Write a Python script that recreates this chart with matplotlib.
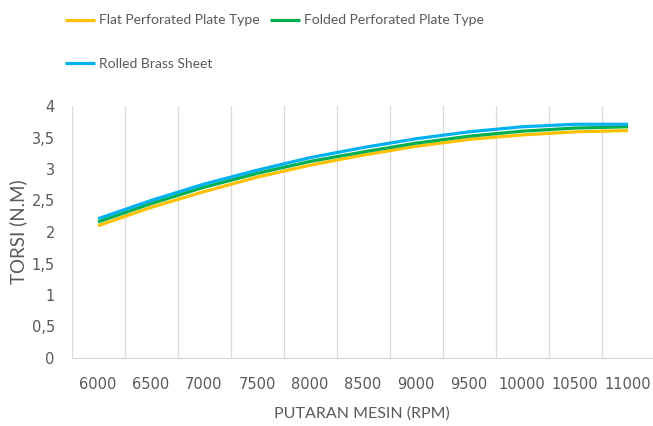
import matplotlib
matplotlib.use("Agg")
import matplotlib.pyplot as plt

rpm = [6000, 6500, 7000, 7500, 8000, 8500, 9000, 9500, 10000, 10500, 11000]
flat = [2.10, 2.39, 2.64, 2.87, 3.06, 3.22, 3.36, 3.47, 3.54, 3.59, 3.61]
folded = [2.16, 2.45, 2.71, 2.93, 3.12, 3.27, 3.41, 3.52, 3.60, 3.65, 3.67]
rolled = [2.21, 2.50, 2.76, 2.98, 3.18, 3.34, 3.48, 3.59, 3.67, 3.71, 3.71]
y_ticks = [0, 0.5, 1, 1.5, 2, 2.5, 3, 3.5, 4]

GRAY = "#595959"
narrow = ["Lato", "DejaVu Sans"]

W, H = 653, 426
fig = plt.figure(figsize=(W / 100, H / 100), dpi=100)
# plot area in pixels: left 71.5, right 653, top 106, bottom 358
ax = fig.add_axes([71.5 / W, (H - 358) / H, (653 - 71.5) / W, (358 - 106) / H])

x = list(range(len(rpm)))
l1, = ax.plot(x, flat, color="#FFC000", lw=2.3, solid_capstyle="butt", label="Flat Perforated Plate Type")
l2, = ax.plot(x, folded, color="#00B050", lw=2.3, solid_capstyle="butt", label="Folded Perforated Plate Type")
l3, = ax.plot(x, rolled, color="#00B0F0", lw=2.3, solid_capstyle="butt", label="Rolled Brass Sheet")

ax.set_xlim(-0.5, -0.5 + (653 - 71.5) / 53.0)
ax.set_ylim(0, 4)

# category boundaries as vertical gridlines
for b in range(len(rpm) + 1):
    ax.axvline(b - 0.5, color="#D9D9D9", lw=0.9, zorder=0)

ax.set_xticks(x)
ax.set_xticklabels([str(v) for v in rpm])
ax.set_yticks(y_ticks)
ax.set_yticklabels([f"{v:g}".replace(".", ",") for v in y_ticks])
ax.tick_params(axis="x", length=0, pad=14, labelsize=10.5, labelcolor=GRAY)
ax.tick_params(axis="y", length=0, pad=12, labelsize=10.5, labelcolor=GRAY)

for s in ["top", "right", "left"]:
    ax.spines[s].set_visible(False)
ax.spines["bottom"].set_color("#D9D9D9")

ax.set_xlabel("PUTARAN MESIN (RPM)", color=GRAY, fontsize=11.5, family=narrow, labelpad=10)
ax.set_ylabel("TORSI (N.M)", color=GRAY, fontsize=13.5, family=narrow, labelpad=3)

fig.legend([l1, l3, l2], [l1.get_label(), l3.get_label(), l2.get_label()],
           loc="upper left", bbox_to_anchor=(52 / W, 1 - 2 / H), ncol=2, frameon=False,
           prop={"family": narrow, "size": 10}, labelcolor=GRAY,
           handlelength=2.2, handletextpad=0.25, columnspacing=0.75, labelspacing=2.25)

fig.savefig("out.png", dpi=100)
